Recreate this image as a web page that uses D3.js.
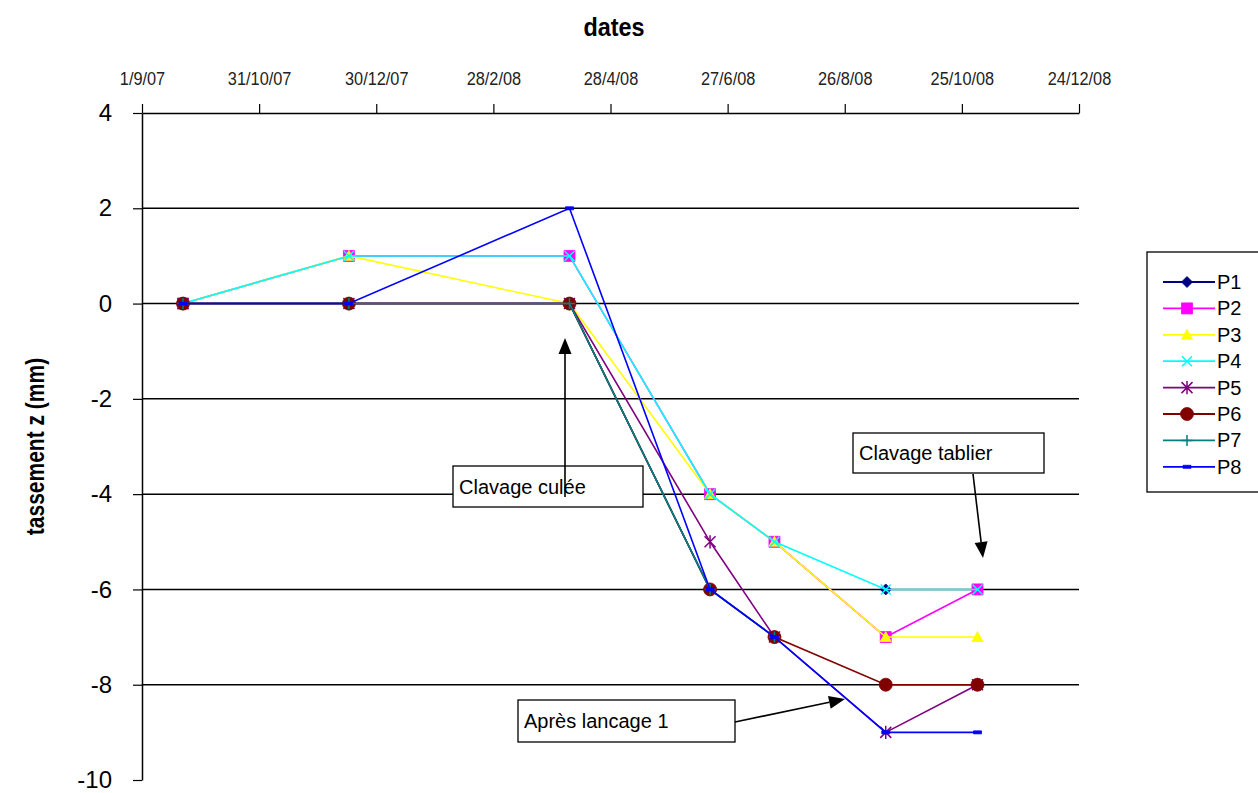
<!DOCTYPE html>
<html>
<head>
<meta charset="utf-8">
<script src="https://cdn.jsdelivr.net/npm/d3@7"></script>
<style>
  body { margin: 0; background: #fff; }
  svg { display: block; font-family: "Liberation Sans", Arial, sans-serif; }
  .narrow { font-family: "Liberation Sans Narrow", "Arial Narrow", "Liberation Sans", sans-serif; font-stretch: condensed; }
</style>
</head>
<body>
<svg id="chart"></svg>
<script>
// ---- data ----
const dates = ["2007-09-22", "2007-12-16", "2008-04-07", "2008-06-18", "2008-07-21", "2008-09-16", "2008-11-02"];
const seriesNames = ["P1", "P2", "P3", "P4", "P5", "P6", "P7", "P8"];
const P1 = [0, 0, 0, -6, null, -6, null];
const P2 = [0, 1, 1, -4, -5, -7, -6];
const P3 = [0, 1, 0, -4, -5, -7, -7];
const P4 = [0, 1, 1, -4, -5, -6, -6];
const P5 = [0, 0, 0, -5, -7, -9, -8];
const P6 = [0, 0, 0, -6, -7, -8, -8];
const P7 = [0, 0, 0, -6, -7, null, null];
const P8 = [0, 0, 2, -6, -7, -9, -9];
const xTicks = ["2007-09-01", "2007-10-31", "2007-12-30", "2008-02-28", "2008-04-28", "2008-06-27", "2008-08-26", "2008-10-25", "2008-12-24"];
const yTicks = [4, 2, 0, -2, -4, -6, -8, -10];
const annotations = [
    { text: "Clavage culée" },
    { text: "Clavage tablier" },
    { text: "Après lancage 1" }
];

const colors = ["#000080", "#ff00ff", "#ffff00", "#00ffff", "#800080", "#800000", "#008080", "#0000ff"];
const markers = ["diamond", "square", "triangle", "x", "star", "circle", "plus", "dash"];

const width = 1258, height = 793;
const margin = { top: 113, right: 179, bottom: 13, left: 142 };

const parse = d3.timeParse("%Y-%m-%d");
const allValues = [P1, P2, P3, P4, P5, P6, P7, P8];
const series = seriesNames.map((name, i) => ({
    name,
    color: colors[i],
    marker: markers[i],
    points: dates.map((d, j) => ({ date: parse(d), v: allValues[i][j] }))
}));

const svg = d3.select("#chart").attr("width", width).attr("height", height);
svg.append("rect").attr("width", width).attr("height", height).attr("fill", "#fff");

const x = d3.scaleTime()
    .domain([parse(xTicks[0]), parse(xTicks[xTicks.length - 1])])
    .range([margin.left, width - margin.right]);
const y = d3.scaleLinear()
    .domain([-10, 4])
    .range([height - margin.bottom, margin.top]);

// gridlines
svg.append("g").selectAll("line")
    .data(yTicks.filter(v => v > -10 && v < 4))
    .join("line")
    .attr("x1", x.range()[0]).attr("x2", x.range()[1])
    .attr("y1", d => y(d)).attr("y2", d => y(d))
    .attr("stroke", "#000").attr("stroke-width", 1.5);

// x axis at top
const fmt = d => `${d.getDate()}/${d.getMonth() + 1}/${String(d.getFullYear()).slice(2)}`;
const xAxis = svg.append("g")
    .attr("transform", `translate(0,${y(4)})`)
    .call(d3.axisTop(x).tickValues(xTicks.map(parse)).tickFormat(fmt).tickSize(9).tickSizeOuter(0));
xAxis.select(".domain").attr("stroke", "#000").attr("stroke-width", 1.5);
xAxis.selectAll(".tick line").attr("stroke", "#000").attr("stroke-width", 1.2);
xAxis.selectAll(".tick text")
    .attr("class", "narrow")
    .attr("y", -28)
    .attr("transform", "scale(0.86,1)")
    .style("font-size", "19px")
    .attr("fill", "#222");

// y axis
const yAxis = svg.append("g")
    .attr("transform", `translate(${margin.left},0)`)
    .call(d3.axisLeft(y).tickValues(yTicks).tickFormat(d => String(d)).tickSize(9).tickSizeOuter(0));
yAxis.select(".domain").attr("stroke", "#000").attr("stroke-width", 1.5);
yAxis.selectAll(".tick line").attr("stroke", "#000").attr("stroke-width", 1.2);
yAxis.selectAll("text")
    .attr("x", -30)
    .style("font-size", "24px")
    .style("font-family", "'Liberation Sans', Arial, sans-serif")
    .attr("fill", "#000");

// axis titles
svg.append("text")
    .attr("class", "narrow")
    .attr("transform", "translate(614,36) scale(0.9,1)")
    .attr("text-anchor", "middle")
    .style("font-size", "26px").style("font-weight", "bold")
    .text("dates");
svg.append("text")
    .attr("class", "narrow")
    .attr("transform", `translate(44,${y(-3)}) rotate(-90) scale(0.84,1)`)
    .attr("text-anchor", "middle")
    .style("font-size", "25px").style("font-weight", "bold")
    .text("tassement z (mm)");

// marker shapes
function markerPath(type, s) {
    switch (type) {
        case "diamond": return `M0,${-s}L${s},0L0,${s}L${-s},0Z`;
        case "square": return `M${-s},${-s}H${s}V${s}H${-s}Z`;
        case "triangle": return `M0,${-s}L${s},${s * 0.8}L${-s},${s * 0.8}Z`;
        case "x": return `M${-s},${-s}L${s},${s}M${-s},${s}L${s},${-s}`;
        case "star": return `M${-s},${-s}L${s},${s}M${-s},${s}L${s},${-s}M0,${-s * 1.2}V${s * 1.2}`;
        case "circle": return d3.symbol(d3.symbolCircle, Math.PI * s * s)();
        case "plus": return `M${-s},0H${s}M0,${-s}V${s}`;
        case "dash": return `M${-s * 0.8},-1.5H${s * 0.8}V1.5H${-s * 0.8}Z`;
    }
}
const filled = t => ["diamond", "square", "triangle", "circle", "dash"].includes(t);
const markerSize = { diamond: 5.5, square: 5.5, triangle: 5.5, x: 5, star: 5.5, circle: 6.5, plus: 5.5, dash: 5 };

function drawMarker(sel, s) {
    sel.attr("d", markerPath(s.marker, markerSize[s.marker]))
        .attr("fill", filled(s.marker) ? s.color : "none")
        .attr("stroke", s.color)
        .attr("stroke-width", filled(s.marker) ? 0.8 : 1.5);
}

// lines + markers
const line = d3.line()
    .defined(d => d.v != null)
    .x(d => x(d.date))
    .y(d => y(d.v));

const seriesG = svg.append("g").selectAll("g")
    .data(series)
    .join("g");
seriesG.append("path")
    .attr("d", d => line(d.points))
    .attr("fill", "none")
    .attr("stroke", d => d.color)
    .attr("stroke-width", 1.6);
seriesG.each(function (s) {
    d3.select(this).selectAll("path.mk")
        .data(s.points.filter(p => p.v != null))
        .join("path")
        .attr("class", "mk")
        .attr("transform", p => `translate(${x(p.date)},${y(p.v)})`)
        .call(drawMarker, s);
});

// annotations
const boxes = [
    { x0: 453, y0: 466, w: 190, h: 41, arrow: [[565, 497], [565, 338]] },
    { x0: 853, y0: 433, w: 191, h: 40, arrow: [[973, 474], [983, 558]] },
    { x0: 518, y0: 700, w: 217, h: 42, arrow: [[735, 722], [845, 699]] }
];
const annG = svg.append("g");
annotations.forEach((a, i) => {
    const b = boxes[i];
    annG.append("rect")
        .attr("x", b.x0).attr("y", b.y0).attr("width", b.w).attr("height", b.h)
        .attr("fill", "#fff").attr("stroke", "#000").attr("stroke-width", 1.3);
    annG.append("text")
        .attr("x", b.x0 + 6).attr("y", b.y0 + b.h / 2)
        .attr("dominant-baseline", "central")
        .style("font-size", "20px")
        .text(a.text);
    const [p0, p1] = b.arrow;
    const ang = Math.atan2(p1[1] - p0[1], p1[0] - p0[0]);
    const L = 16, W = 6.5;
    const bx = p1[0] - L * Math.cos(ang), by = p1[1] - L * Math.sin(ang);
    annG.append("line")
        .attr("x1", p0[0]).attr("y1", p0[1]).attr("x2", bx).attr("y2", by)
        .attr("stroke", "#000").attr("stroke-width", 1.6);
    annG.append("path")
        .attr("d", `M${p1[0]},${p1[1]}L${bx + W * Math.sin(ang)},${by - W * Math.cos(ang)}L${bx - W * Math.sin(ang)},${by + W * Math.cos(ang)}Z`)
        .attr("fill", "#000");
});

// legend
const legend = svg.append("g").attr("transform", "translate(1147,252)");
legend.append("rect")
    .attr("width", 150).attr("height", 240)
    .attr("fill", "#fff").attr("stroke", "#000").attr("stroke-width", 1.3);
const item = legend.selectAll("g.item")
    .data(series)
    .join("g")
    .attr("class", "item")
    .attr("transform", (d, i) => `translate(0,${30 + i * 26.4})`);
item.append("line")
    .attr("x1", 16).attr("x2", 68)
    .attr("stroke", d => d.color).attr("stroke-width", 1.8);
item.append("path")
    .attr("transform", "translate(40,0)")
    .each(function (d) { d3.select(this).call(drawMarker, d); });
item.append("text")
    .attr("x", 70).attr("dominant-baseline", "central")
    .style("font-size", "20px")
    .text(d => d.name);
</script>
</body>
</html>
